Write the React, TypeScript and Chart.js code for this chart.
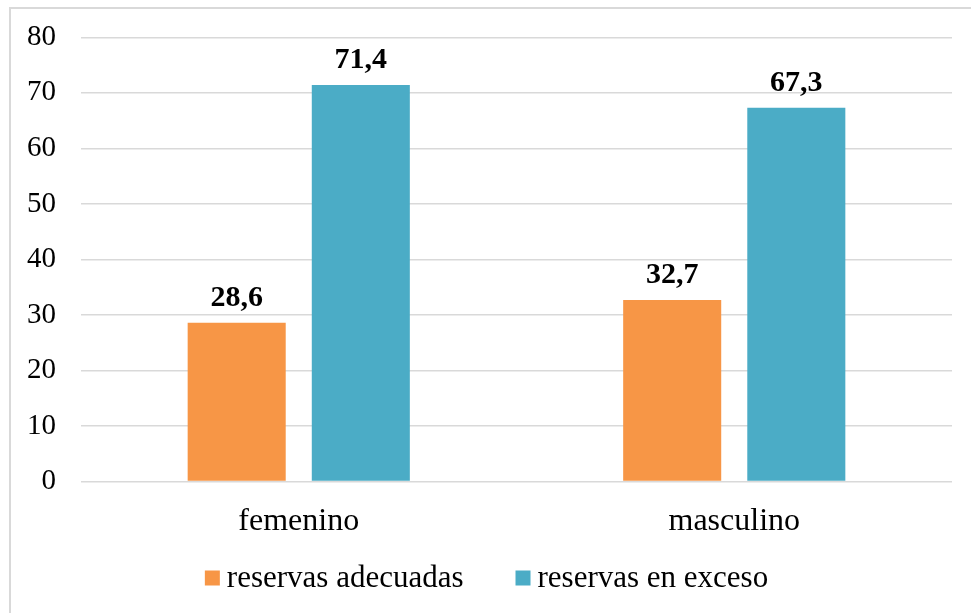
import React, { useEffect, useRef } from "react";
import { Chart, registerables } from "chart.js";

Chart.register(...registerables);

const categories = ["femenino", "masculino"];
const seriesNames = ["reservas adecuadas", "reservas en exceso"];
const adecuadas = [28.6, 32.7];
const exceso = [71.4, 67.3];
const colors = ["#F79646", "#4BACC6"];
const yTicks = [0, 10, 20, 30, 40, 50, 60, 70, 80];

const FONT = "'Liberation Serif', 'Times New Roman', serif";

const valueLabels = {
  id: "valueLabels",
  afterDatasetsDraw(chart: any) {
    const ctx = chart.ctx;
    ctx.save();
    ctx.font = `bold 30px ${FONT}`;
    ctx.fillStyle = "#000";
    ctx.textAlign = "center";
    ctx.textBaseline = "middle";
    chart.data.datasets.forEach((ds: any, i: number) => {
      const meta = chart.getDatasetMeta(i);
      meta.data.forEach((bar: any, j: number) => {
        const v = ds.data[j];
        ctx.fillText(String(v.toFixed(1)).replace(".", ","), bar.x, bar.y - 25);
      });
    });
    ctx.restore();
  },
};

const customLegend = {
  id: "customLegend",
  afterDraw(chart: any) {
    const ctx = chart.ctx;
    ctx.save();
    ctx.font = `31px ${FONT}`;
    ctx.textBaseline = "middle";
    ctx.textAlign = "left";
    const box = 15;
    const gap = 7;
    const itemGap = 52;
    const items = chart.data.datasets.map((ds: any) => ({
      label: ds.label,
      color: ds.backgroundColor,
      w: box + gap + ctx.measureText(ds.label).width,
    }));
    const total = items.reduce((s: number, it: any) => s + it.w, 0) + itemGap * (items.length - 1);
    let x = (chart.width - total) / 2 + 1;
    const y = 578;
    items.forEach((it: any) => {
      ctx.fillStyle = it.color;
      ctx.fillRect(x, y - box / 2, box, box);
      ctx.fillStyle = "#000";
      ctx.fillText(it.label, x + box + gap, y + 1);
      x += it.w + itemGap;
    });
    ctx.restore();
  },
};

export default function App() {
  const ref = useRef<HTMLCanvasElement>(null);
  useEffect(() => {
    if (!ref.current) return;
    const chart = new Chart(ref.current, {
      type: "bar",
      data: {
        labels: categories,
        datasets: [
          { label: seriesNames[0], data: adecuadas, backgroundColor: colors[0] },
          { label: seriesNames[1], data: exceso, backgroundColor: colors[1] },
        ],
      },
      options: {
        animation: false,
        responsive: false,
        maintainAspectRatio: false,
        layout: { padding: { top: 10, left: 2, right: 19, bottom: 51 } },
        datasets: { bar: { categoryPercentage: 0.57, barPercentage: 0.79 } },
        plugins: {
          legend: { display: false },
          tooltip: { enabled: false },
        },
        scales: {
          x: {
            grid: { display: false, drawTicks: false },
            border: { display: false },
            ticks: { color: "#000", font: { family: FONT, size: 32 }, padding: 21 },
          },
          y: {
            min: 0,
            max: 80,
            afterBuildTicks: (axis: any) => {
              axis.ticks = yTicks.map((v) => ({ value: v }));
            },
            grid: { color: "#d9d9d9", lineWidth: 1.5, drawTicks: false },
            border: { display: false },
            ticks: { color: "#000", font: { family: FONT, size: 29, lineHeight: 0.85 }, padding: 25 },
          },
        },
      },
      plugins: [valueLabels, customLegend],
    });
    return () => chart.destroy();
  }, []);
  return (
    <div style={{ position: "fixed", left: 0, top: 0, width: 971, height: 613, overflow: "hidden", background: "#fff" }}>
      <div
        style={{
          position: "absolute",
          left: 9,
          top: 7,
          width: 1000,
          height: 700,
          border: "2px solid #d9d9d9",
        }}
      />
      <canvas ref={ref} width={971} height={613} style={{ position: "absolute", left: 0, top: 0 }} />
    </div>
  );
}
